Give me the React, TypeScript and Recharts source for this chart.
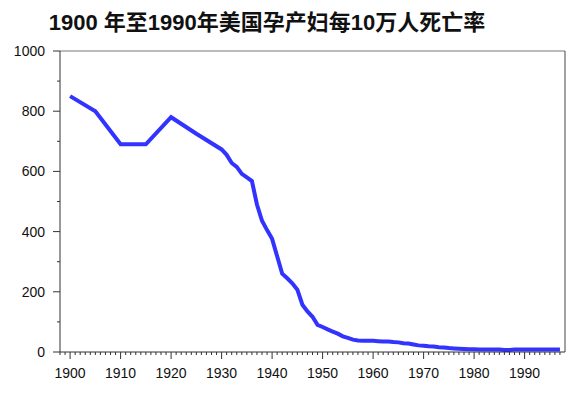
import React from 'react';
import { LineChart, Line, XAxis, YAxis, ReferenceLine } from 'recharts';

const years = [
  1900, 1905, 1910, 1915, 1920, 1925, 1930, 1931, 1932, 1933, 1934, 1935, 1936, 1937, 1938, 1939,
  1940, 1941, 1942, 1943, 1944, 1945, 1946, 1947, 1948, 1949, 1950, 1951, 1952, 1953, 1954, 1955,
  1956, 1957, 1958, 1959, 1960, 1961, 1962, 1963, 1964, 1965, 1966, 1967, 1968, 1969, 1970, 1971,
  1972, 1973, 1974, 1975, 1976, 1977, 1978, 1979, 1980, 1981, 1982, 1983, 1984, 1985, 1986, 1987,
  1988, 1989, 1990, 1991, 1992, 1993, 1994, 1995, 1996, 1997,
];

const rates = [
  850, 800, 690, 690, 780, 725, 673, 655, 628, 615, 592, 580, 568, 490, 436, 405,
  376, 318, 260, 245, 228, 207, 157, 135, 117, 90, 83, 75, 68, 61, 52, 47,
  41, 38, 37, 37, 37, 36, 35, 35, 33, 32, 29, 28, 25, 22, 21, 19,
  18, 16, 15, 13, 12, 11, 10, 9, 9, 8, 8, 8, 8, 8, 7, 7,
  8, 8, 8, 8, 8, 8, 8, 8, 8, 8,
];

const yTicks = [0, 100, 200, 300, 400, 500, 600, 700, 800, 900, 1000];
const xTicks = Array.from({ length: 100 }, (_, i) => 1898 + i);

const data = years.map((year, i) => ({ year, rate: rates[i] }));

const font = '"Liberation Sans", Arial, "Noto Sans CJK SC", sans-serif';

const XTick = (props: any) => {
  const { x, y, payload } = props;
  const major = payload.value % 10 === 0;
  return (
    <g>
      <line x1={x} x2={x} y1={y} y2={y + (major ? 7 : 3)} stroke="#333" strokeWidth={1} />
      {major && (
        <text x={x} y={y + 26} textAnchor="middle" fontSize={14} fill="#111" fontFamily={font}>
          {payload.value}
        </text>
      )}
    </g>
  );
};

const YTick = (props: any) => {
  const { x, y, payload } = props;
  const major = payload.value % 200 === 0;
  return (
    <g>
      <line x1={x} x2={x - (major ? 7 : 3)} y1={y} y2={y} stroke="#333" strokeWidth={1} />
      {major && (
        <text x={x - 15} y={y + 5} textAnchor="end" fontSize={14} fill="#111" fontFamily={font}>
          {payload.value}
        </text>
      )}
    </g>
  );
};

export default function App() {
  return (
    <div style={{ position: 'absolute', left: 0, top: 0, width: 568, height: 409, background: '#fff' }}>
      <div
        style={{
          position: 'absolute',
          left: 0,
          top: 9,
          width: 534,
          textAlign: 'center',
          fontFamily: font,
          fontWeight: 'bold',
          fontSize: 22,
          lineHeight: '28px',
          color: '#111',
        }}
      >
        1900 年至1990年美国孕产妇每10万人死亡率
      </div>
      <LineChart width={568} height={409} data={data} margin={{ top: 51, right: 3, bottom: 27, left: 8 }}>
        <XAxis
          dataKey="year"
          type="number"
          domain={[1898, 1998]}
          ticks={xTicks}
          interval={0}
          tickSize={0}
          tickMargin={0}
          height={30}
          stroke="#333"
          tick={<XTick />}
        />
        <YAxis
          type="number"
          domain={[0, 1000]}
          ticks={yTicks}
          interval={0}
          tickSize={0}
          tickMargin={0}
          width={52}
          stroke="#333"
          tick={<YTick />}
        />
        <ReferenceLine y={1000} stroke="#777" strokeWidth={1} />
        <ReferenceLine x={1998} stroke="#444" strokeWidth={1} />
        <Line
          type="linear"
          dataKey="rate"
          stroke="#3333ff"
          strokeWidth={4}
          dot={false}
          isAnimationActive={false}
        />
      </LineChart>
    </div>
  );
}
